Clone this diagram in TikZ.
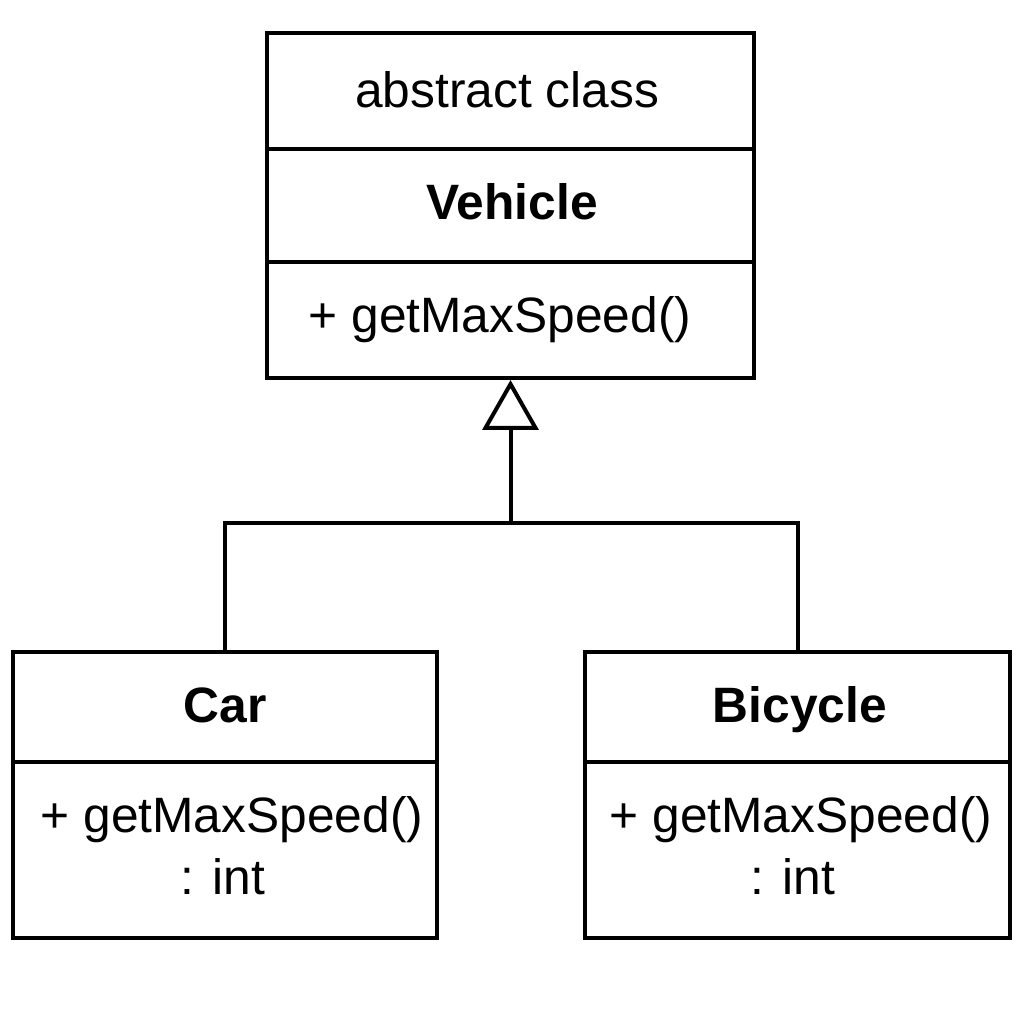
\documentclass[tikz,border=0pt]{standalone}
\usepackage{fontspec}
\setmainfont{Liberation Sans}
\usetikzlibrary{arrows.meta}
\begin{document}
\begin{tikzpicture}[x=1pt,y=1pt,
  box/.style={draw=black,line width=4pt,rectangle,inner sep=0pt},
  lbl/.style={font=\fontsize{49.7}{56}\selectfont,inner sep=0pt,anchor=base},
  bold/.style={lbl,font=\fontsize{49.7}{56}\selectfont\bfseries},
  sep/.style={line width=4pt},
  inherit/.style={line width=4pt,-{Triangle[open,length=50pt,width=56pt,line width=4pt]}}]
\useasboundingbox (0,0) rectangle (1024,1024);
% boxes
\node[box,minimum width=487pt,minimum height=345pt] (vehicle) at (510.5,818.5) {};
\node[box,minimum width=424pt,minimum height=286pt] (car) at (225,229) {};
\node[box,minimum width=425pt,minimum height=286pt] (bicycle) at (797.5,229) {};
% compartments
\draw[sep] (vehicle.west |- 0,875) coordinate (v1a) -- (vehicle.east |- 0,875) coordinate (v1b);
\draw[sep] (vehicle.west |- 0,762) coordinate (v2a) -- (vehicle.east |- 0,762) coordinate (v2b);
\draw[sep] (car.west |- 0,262) coordinate (c1a) -- (car.east |- 0,262) coordinate (c1b);
\draw[sep] (bicycle.west |- 0,262) coordinate (b1a) -- (bicycle.east |- 0,262) coordinate (b1b);
% texts
\node[lbl] (vst) at (507,916) {abstract class};
\node[bold] (vname) at (512,804) {Vehicle};
\node[lbl] (vop) at (500,691) {+ getMaxSpeed()};
\node[bold] (cname) at (225,301) {Car};
\node[lbl] (cop) at (232,191) {+ getMaxSpeed()};
\node[lbl] (cret) at (223,129) {: int};
\node[bold] (bname) at (800,301) {Bicycle};
\node[lbl] (bop) at (801,191) {+ getMaxSpeed()};
\node[lbl] (bret) at (793,129) {: int};
% generalization
\coordinate (j) at (vehicle.south |- 0,501);
\draw[sep] (car.north) |- (j) -| (bicycle.north);
\draw[inherit] (j) -- (vehicle.south);
\end{tikzpicture}
\end{document}
